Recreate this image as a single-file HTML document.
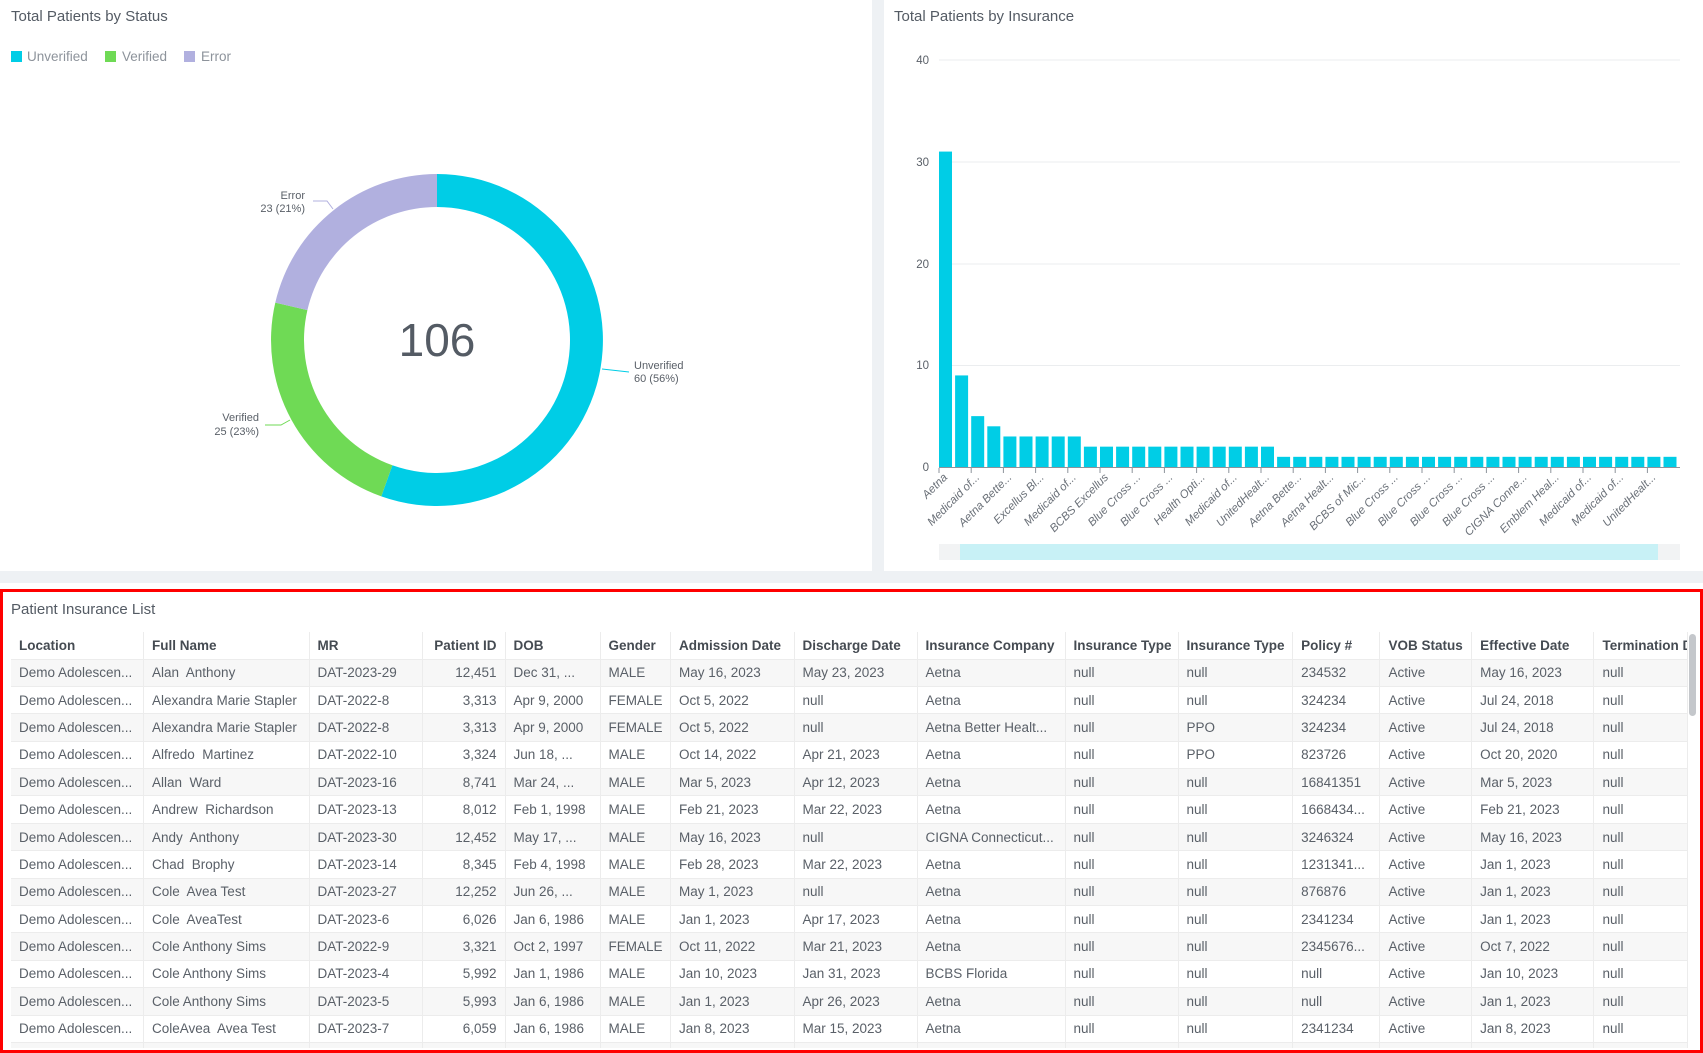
<!DOCTYPE html>
<html><head><meta charset="utf-8"><style>
*{margin:0;padding:0;box-sizing:border-box}
body{width:1703px;height:1053px;background:#eef1f4;font-family:"Liberation Sans",sans-serif;position:relative;overflow:hidden}
.p{position:absolute;background:#fff}
.t{position:absolute;font-size:15px;color:#545b64}
.wrap{position:absolute;left:11px;top:632px;width:1677px;height:416px;overflow:hidden}
table{border-collapse:collapse;table-layout:fixed;width:1677px}
td,th{height:27.4px;font-size:13.5px;white-space:nowrap;overflow:hidden;padding:0 8px;text-align:left;border-right:1px solid #ececec;border-bottom:1px solid #ececec;color:#5a6068;font-weight:normal}
th{font-weight:bold;color:#454b52;background:#fff;height:27px}
tbody tr:nth-child(odd) td{background:#f7f7f7}
td.r{text-align:right}
</style></head><body>
<div class="p" style="left:0;top:0;width:872px;height:571px"></div>
<div class="p" style="left:884px;top:0;width:819px;height:571px"></div>
<div class="p" style="left:0;top:583px;width:1703px;height:470px"></div>
<div class="t" style="left:11px;top:8px">Total Patients by Status</div>
<div class="t" style="left:894px;top:8px">Total Patients by Insurance</div>
<div class="t" style="left:11px;top:601px">Patient Insurance List</div>
<div style="position:absolute;left:11px;top:50px;font-size:13.5px;color:#8d939b">
<span style="position:absolute;left:0;top:1px;width:11px;height:11px;background:#00cde6"></span><span style="position:absolute;left:16px;top:-1px">Unverified</span>
<span style="position:absolute;left:94px;top:1px;width:11px;height:11px;background:#6fda55"></span><span style="position:absolute;left:111px;top:-1px">Verified</span>
<span style="position:absolute;left:173px;top:1px;width:11px;height:11px;background:#b1b0df"></span><span style="position:absolute;left:190px;top:-1px">Error</span>
</div>
<svg style="position:absolute;left:0;top:0" width="1703" height="583">
<path d="M437,174 A166,166 0 1 1 381.3,496.4 L392.4,465.3 A133,133 0 1 0 437,207 Z" fill="#00cde6"/>
<path d="M381.3,496.4 A166,166 0 0 1 275.3,302.6 L307.4,310.1 A133,133 0 0 0 392.4,465.3 Z" fill="#6fda55"/>
<path d="M275.3,302.6 A166,166 0 0 1 437,174 L437,207 A133,133 0 0 0 307.4,310.1 Z" fill="#b1b0df"/>
<text x="437" y="356" text-anchor="middle" font-size="46" fill="#545b64" font-family="Liberation Sans">106</text>
<polyline points="602,369 629,372" stroke="#00cde6" fill="none"/>
<polyline points="290,420 281,425 265,425" stroke="#6fda55" fill="none"/>
<polyline points="333,209 327,201 313,201" stroke="#b1b0df" fill="none"/>
<g font-size="11" fill="#5a6068" font-family="Liberation Sans">
<text x="634" y="369">Unverified</text><text x="634" y="382">60 (56%)</text>
<text x="259" y="421" text-anchor="end">Verified</text><text x="259" y="435" text-anchor="end">25 (23%)</text>
<text x="305" y="199" text-anchor="end">Error</text><text x="305" y="212" text-anchor="end">23 (21%)</text>
</g>
<g stroke="#ebedef"><line x1="939" x2="1680" y1="60" y2="60"/><line x1="939" x2="1680" y1="162" y2="162"/><line x1="939" x2="1680" y1="264" y2="264"/><line x1="939" x2="1680" y1="365.5" y2="365.5"/></g>
<g font-size="11.5" fill="#5a6068" text-anchor="end" font-family="Liberation Sans"><text x="929" y="64">40</text><text x="929" y="166">30</text><text x="929" y="268">20</text><text x="929" y="369">10</text><text x="929" y="471">0</text></g>
<g id="bars" fill="#00cde6"></g>
<line x1="939" x2="1680" y1="467.5" y2="467.5" stroke="#8d939b"/>
<g id="ticks" stroke="#8d939b"></g>
<g font-size="11.5" fill="#6a7078" text-anchor="end" font-style="italic" font-family="Liberation Sans" id="lbl">
<text>Aetna</text><text>Medicaid of...</text><text>Aetna Bette...</text><text>Excellus Bl...</text><text>Medicaid of...</text><text>BCBS Excellus</text><text>Blue Cross ...</text><text>Blue Cross ...</text><text>Health Opti...</text><text>Medicaid of...</text><text>UnitedHealt...</text><text>Aetna Bette...</text><text>Aetna Healt...</text><text>BCBS of Mic...</text><text>Blue Cross ...</text><text>Blue Cross ...</text><text>Blue Cross ...</text><text>Blue Cross ...</text><text>CIGNA Conne...</text><text>Emblem Heal...</text><text>Medicaid of...</text><text>Medicaid of...</text><text>UnitedHealt...</text>
</g>
<rect x="939" y="544" width="741" height="16" fill="#f2f3f4"/>
<rect x="960" y="544" width="698" height="16" fill="#c8f1f6"/>
</svg>
<script>
var v=[31,9,5,4,3,3,3,3,3];for(var i=0;i<12;i++)v.push(2);while(v.length<46)v.push(1);
var ns="http://www.w3.org/2000/svg",b=document.getElementById("bars"),tk=document.getElementById("ticks");
v.forEach(function(h,i){var r=document.createElementNS(ns,"rect");var x=939+i*16.1;r.setAttribute("x",x);r.setAttribute("width",13);r.setAttribute("y",467-h*10.175);r.setAttribute("height",h*10.175);b.appendChild(r);
if(i%2==0){var l=document.createElementNS(ns,"line");l.setAttribute("x1",x);l.setAttribute("x2",x);l.setAttribute("y1",468);l.setAttribute("y2",473);tk.appendChild(l);}});
[].forEach.call(document.querySelectorAll("#lbl text"),function(t,k){var x=939+2*k*16.1+9;t.setAttribute("transform","translate("+x+",478) rotate(-45)");});
</script>
<div class="wrap"><table>
<colgroup><col style="width:132.5px"><col style="width:165.5px"><col style="width:113px"><col style="width:83px"><col style="width:95px"><col style="width:70.5px"><col style="width:123.5px"><col style="width:123px"><col style="width:148px"><col style="width:113px"><col style="width:114.6px"><col style="width:87.4px"><col style="width:91.6px"><col style="width:122.4px"><col style="width:94px"></colgroup>
<thead><tr><th>Location</th><th>Full Name</th><th>MR</th><th style="text-align:right">Patient ID</th><th>DOB</th><th>Gender</th><th>Admission Date</th><th>Discharge Date</th><th>Insurance Company</th><th>Insurance Type</th><th>Insurance Type</th><th>Policy #</th><th>VOB Status</th><th>Effective Date</th><th>Termination Date</th></tr></thead>
<tbody>
<tr><td>Demo Adolescen...</td><td>Alan&nbsp; Anthony</td><td>DAT-2023-29</td><td class="r">12,451</td><td>Dec 31, ...</td><td>MALE</td><td>May 16, 2023</td><td>May 23, 2023</td><td>Aetna</td><td>null</td><td>null</td><td>234532</td><td>Active</td><td>May 16, 2023</td><td>null</td></tr>
<tr><td>Demo Adolescen...</td><td>Alexandra Marie Stapler</td><td>DAT-2022-8</td><td class="r">3,313</td><td>Apr 9, 2000</td><td>FEMALE</td><td>Oct 5, 2022</td><td>null</td><td>Aetna</td><td>null</td><td>null</td><td>324234</td><td>Active</td><td>Jul 24, 2018</td><td>null</td></tr>
<tr><td>Demo Adolescen...</td><td>Alexandra Marie Stapler</td><td>DAT-2022-8</td><td class="r">3,313</td><td>Apr 9, 2000</td><td>FEMALE</td><td>Oct 5, 2022</td><td>null</td><td>Aetna Better Healt...</td><td>null</td><td>PPO</td><td>324234</td><td>Active</td><td>Jul 24, 2018</td><td>null</td></tr>
<tr><td>Demo Adolescen...</td><td>Alfredo&nbsp; Martinez</td><td>DAT-2022-10</td><td class="r">3,324</td><td>Jun 18, ...</td><td>MALE</td><td>Oct 14, 2022</td><td>Apr 21, 2023</td><td>Aetna</td><td>null</td><td>PPO</td><td>823726</td><td>Active</td><td>Oct 20, 2020</td><td>null</td></tr>
<tr><td>Demo Adolescen...</td><td>Allan&nbsp; Ward</td><td>DAT-2023-16</td><td class="r">8,741</td><td>Mar 24, ...</td><td>MALE</td><td>Mar 5, 2023</td><td>Apr 12, 2023</td><td>Aetna</td><td>null</td><td>null</td><td>16841351</td><td>Active</td><td>Mar 5, 2023</td><td>null</td></tr>
<tr><td>Demo Adolescen...</td><td>Andrew&nbsp; Richardson</td><td>DAT-2023-13</td><td class="r">8,012</td><td>Feb 1, 1998</td><td>MALE</td><td>Feb 21, 2023</td><td>Mar 22, 2023</td><td>Aetna</td><td>null</td><td>null</td><td>1668434...</td><td>Active</td><td>Feb 21, 2023</td><td>null</td></tr>
<tr><td>Demo Adolescen...</td><td>Andy&nbsp; Anthony</td><td>DAT-2023-30</td><td class="r">12,452</td><td>May 17, ...</td><td>MALE</td><td>May 16, 2023</td><td>null</td><td>CIGNA Connecticut...</td><td>null</td><td>null</td><td>3246324</td><td>Active</td><td>May 16, 2023</td><td>null</td></tr>
<tr><td>Demo Adolescen...</td><td>Chad&nbsp; Brophy</td><td>DAT-2023-14</td><td class="r">8,345</td><td>Feb 4, 1998</td><td>MALE</td><td>Feb 28, 2023</td><td>Mar 22, 2023</td><td>Aetna</td><td>null</td><td>null</td><td>1231341...</td><td>Active</td><td>Jan 1, 2023</td><td>null</td></tr>
<tr><td>Demo Adolescen...</td><td>Cole&nbsp; Avea Test</td><td>DAT-2023-27</td><td class="r">12,252</td><td>Jun 26, ...</td><td>MALE</td><td>May 1, 2023</td><td>null</td><td>Aetna</td><td>null</td><td>null</td><td>876876</td><td>Active</td><td>Jan 1, 2023</td><td>null</td></tr>
<tr><td>Demo Adolescen...</td><td>Cole&nbsp; AveaTest</td><td>DAT-2023-6</td><td class="r">6,026</td><td>Jan 6, 1986</td><td>MALE</td><td>Jan 1, 2023</td><td>Apr 17, 2023</td><td>Aetna</td><td>null</td><td>null</td><td>2341234</td><td>Active</td><td>Jan 1, 2023</td><td>null</td></tr>
<tr><td>Demo Adolescen...</td><td>Cole Anthony Sims</td><td>DAT-2022-9</td><td class="r">3,321</td><td>Oct 2, 1997</td><td>FEMALE</td><td>Oct 11, 2022</td><td>Mar 21, 2023</td><td>Aetna</td><td>null</td><td>null</td><td>2345676...</td><td>Active</td><td>Oct 7, 2022</td><td>null</td></tr>
<tr><td>Demo Adolescen...</td><td>Cole Anthony Sims</td><td>DAT-2023-4</td><td class="r">5,992</td><td>Jan 1, 1986</td><td>MALE</td><td>Jan 10, 2023</td><td>Jan 31, 2023</td><td>BCBS Florida</td><td>null</td><td>null</td><td>null</td><td>Active</td><td>Jan 10, 2023</td><td>null</td></tr>
<tr><td>Demo Adolescen...</td><td>Cole Anthony Sims</td><td>DAT-2023-5</td><td class="r">5,993</td><td>Jan 6, 1986</td><td>MALE</td><td>Jan 1, 2023</td><td>Apr 26, 2023</td><td>Aetna</td><td>null</td><td>null</td><td>null</td><td>Active</td><td>Jan 1, 2023</td><td>null</td></tr>
<tr><td>Demo Adolescen...</td><td>ColeAvea&nbsp; Avea Test</td><td>DAT-2023-7</td><td class="r">6,059</td><td>Jan 6, 1986</td><td>MALE</td><td>Jan 8, 2023</td><td>Mar 15, 2023</td><td>Aetna</td><td>null</td><td>null</td><td>2341234</td><td>Active</td><td>Jan 8, 2023</td><td>null</td></tr>
<tr><td>&nbsp;</td><td></td><td></td><td></td><td></td><td></td><td></td><td></td><td></td><td></td><td></td><td></td><td></td><td></td><td></td></tr>
</tbody></table></div>
<div style="position:absolute;left:1688px;top:632px;width:12px;height:418px;background:#fff"></div>
<div style="position:absolute;left:1689px;top:634px;width:7px;height:82px;background:#c4c7cb;border-radius:4px"></div>
<div style="position:absolute;left:0;top:589px;width:1703px;height:464px;border:3px solid #f00"></div>
</body></html>
